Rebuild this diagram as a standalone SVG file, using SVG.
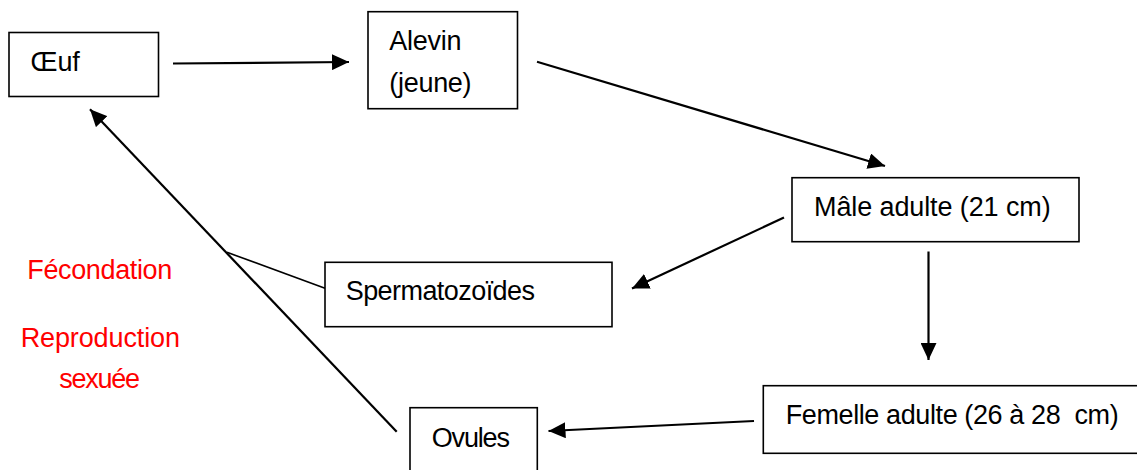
<svg xmlns="http://www.w3.org/2000/svg" width="1137" height="470" viewBox="0 0 1137 470">
<style>
.box{fill:#fff;stroke:#000;stroke-width:1.6}
.t{font-family:"Liberation Sans",Arial,sans-serif;font-size:27px;fill:#000}
.r{font-family:"Liberation Sans",Arial,sans-serif;font-size:27px;fill:#ff0000;text-anchor:middle}
.c{stroke:#000;stroke-width:2.2;fill:none}
.thin{stroke:#000;stroke-width:1.6;fill:none}
</style>
<defs>
<marker id="ah" markerUnits="userSpaceOnUse" markerWidth="18" markerHeight="16" viewBox="0 0 18 16" refX="17" refY="8" orient="auto">
<path d="M0,0 L17,8 L0,16 Z" fill="#000"/>
</marker>
</defs>
<rect width="1137" height="470" fill="#fff"/>
<g id="connectors">
<line class="c" x1="173" y1="63.5" x2="349" y2="62" marker-end="url(#ah)"/>
<line class="c" x1="537" y1="61.7" x2="885" y2="166" marker-end="url(#ah)"/>
<line class="c" x1="784" y1="217.5" x2="632" y2="288.5" marker-end="url(#ah)"/>
<line class="c" x1="928.5" y1="251.5" x2="928.5" y2="360" marker-end="url(#ah)"/>
<line class="c" x1="754" y1="421" x2="548.5" y2="431" marker-end="url(#ah)"/>
<line class="c" x1="396.7" y1="431.7" x2="90" y2="109.3" marker-end="url(#ah)"/>
<line class="thin" x1="325" y1="288.3" x2="227" y2="252.3"/>
</g>
<g id="oeuf">
<rect class="box" x="9" y="32.5" width="149.5" height="64"/>
<text class="t" x="30.5" y="71" textLength="49.3">Œuf</text>
</g>
<g id="alevin">
<rect class="box" x="368" y="11.7" width="149.5" height="97"/>
<text class="t" x="389.3" y="50" textLength="72.3">Alevin</text>
<text class="t" x="389.3" y="91.5" textLength="82.3">(jeune)</text>
</g>
<g id="male">
<rect class="box" x="792" y="177.7" width="287" height="64"/>
<text class="t" x="814" y="216" textLength="236.7">Mâle adulte (21 cm)</text>
</g>
<g id="spermatozoides">
<rect class="box" x="325" y="262.3" width="287" height="64.4"/>
<text class="t" x="345.7" y="300" textLength="189.3">Spermatozoïdes</text>
</g>
<g id="femelle">
<rect class="box" x="763.3" y="385.7" width="390" height="67.6"/>
<text class="t" x="785.7" y="424" textLength="333" xml:space="preserve">Femelle adulte (26 à 28  cm)</text>
</g>
<g id="ovules">
<rect class="box" x="410" y="407.7" width="127.3" height="80"/>
<text class="t" x="431.7" y="446.7" textLength="78.3">Ovules</text>
</g>
<g id="labels">
<text class="r" x="99.8" y="279.3" textLength="145">Fécondation</text>
<text class="r" x="100.3" y="347.3" textLength="159.3">Reproduction</text>
<text class="r" x="99.7" y="388.3" textLength="80.7">sexuée</text>
</g>
</svg>
